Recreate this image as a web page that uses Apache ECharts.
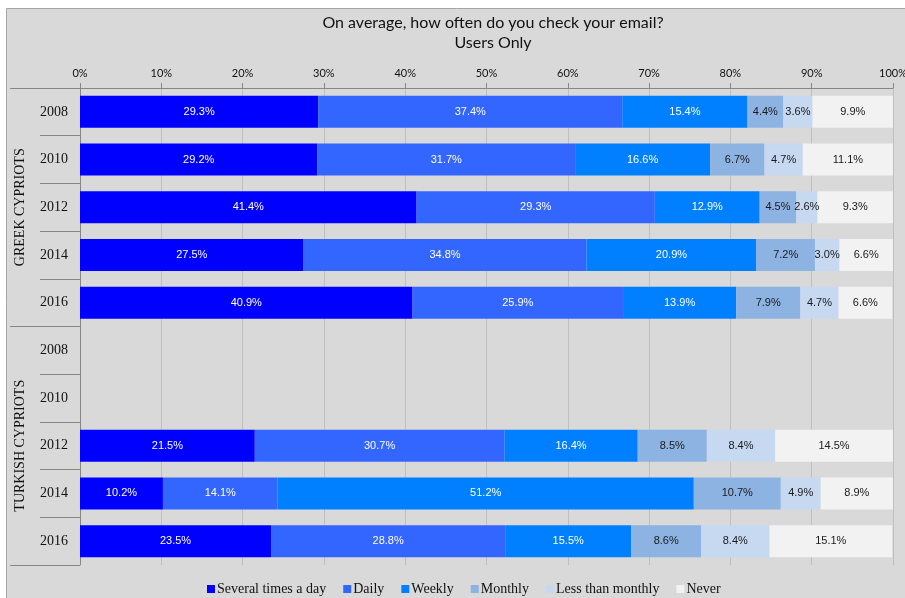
<!DOCTYPE html>
<html>
<head>
<meta charset="utf-8">
<style>
  html, body { margin: 0; padding: 0; background: #ffffff; }
  #chart { width: 905px; height: 598px; }
</style>
<script src="https://cdn.jsdelivr.net/npm/echarts@6/dist/echarts.min.js"></script>
</head>
<body>
<div id="chart"></div>
<script>
// Survey rows: two communities, five survey years each
const groups = ['GREEK CYPRIOTS', 'TURKISH CYPRIOTS'];
const years = ['2008', '2010', '2012', '2014', '2016'];

const seriesNames = ['Several times a day', 'Daily', 'Weekly', 'Monthly', 'Less than monthly', 'Never'];

// Percentages per row (Greek Cypriots 2008..2016, then Turkish Cypriots 2008..2016)
const severalTimes    = [29.3, 29.2, 41.4, 27.5, 40.9, null, null, 21.5, 10.2, 23.5];
const daily           = [37.4, 31.7, 29.3, 34.8, 25.9, null, null, 30.7, 14.1, 28.8];
const weekly          = [15.4, 16.6, 12.9, 20.9, 13.9, null, null, 16.4, 51.2, 15.5];
const monthly         = [4.4, 6.7, 4.5, 7.2, 7.9, null, null, 8.5, 10.7, 8.6];
const lessThanMonthly = [3.6, 4.7, 2.6, 3.0, 4.7, null, null, 8.4, 4.9, 8.4];
const never           = [9.9, 11.1, 9.3, 6.6, 6.6, null, null, 14.5, 8.9, 15.1];

const seriesValues = [severalTimes, daily, weekly, monthly, lessThanMonthly, never];
const colors = ['#0000ff', '#3366ff', '#0080ff', '#8db3e2', '#c6d9f1', '#f2f2f2'];
const labelColors = ['#ffffff', '#ffffff', '#ffffff', '#1a1a1a', '#1a1a1a', '#1a1a1a'];

// Unique row keys so repeated years stay distinct on the category axis
const rowKeys = [];
groups.forEach(function (g) { years.forEach(function (y) { rowKeys.push(g + '|' + y); }); });

const chart = echarts.init(document.getElementById('chart'), null, { renderer: 'canvas' });

const option = {
  backgroundColor: 'transparent',
  animation: false,
  graphic: [{
    type: 'rect',
    z: -100,
    silent: true,
    shape: { x: 6.5, y: 8.5, width: 910, height: 600 },
    style: { fill: '#d9d9d9', stroke: '#a6a6a6', lineWidth: 1 }
  }],
  title: {
    text: 'On average, how often do you check your email?\nUsers Only',
    left: 488,
    top: 8,
    textAlign: 'center',
    textStyle: {
      fontFamily: 'Lato',
      fontSize: 16,
      fontWeight: 'normal',
      color: '#111111',
      lineHeight: 20
    }
  },
  legend: {
    top: 577,
    left: 202,
    itemWidth: 8,
    itemHeight: 8,
    itemGap: 17,
    icon: 'rect',
    data: seriesNames,
    textStyle: {
      fontFamily: 'Liberation Serif',
      fontSize: 14,
      color: '#111111',
      padding: [0, 0, 0, -3]
    }
  },
  grid: { left: 80, right: 12, top: 88, bottom: 33, containLabel: false, outerBoundsMode: 'none' },
  xAxis: {
    type: 'value',
    position: 'top',
    min: 0,
    max: 100,
    interval: 10,
    axisLine: { show: true, lineStyle: { color: '#868686', width: 1 } },
    axisTick: { show: true, length: 5, lineStyle: { color: '#868686' } },
    axisLabel: {
      margin: 9,
      fontFamily: 'Lato',
      fontSize: 11,
      color: '#111111',
      formatter: '{value}%'
    },
    splitLine: { show: true, lineStyle: { color: '#bfbfbf', width: 1 } }
  },
  yAxis: [
    {
      type: 'category',
      position: 'left',
      inverse: true,
      data: rowKeys,
      axisLine: { show: true, lineStyle: { color: '#868686' } },
      axisTick: { show: true, length: 40, interval: 0, lineStyle: { color: '#868686' } },
      axisLabel: {
        interval: 0,
        margin: 12,
        fontFamily: 'Liberation Serif',
        fontSize: 14,
        color: '#111111',
        formatter: function (v) { return v.split('|')[1]; }
      }
    },
    {
      type: 'category',
      position: 'left',
      inverse: true,
      data: groups,
      axisLine: { show: false },
      axisTick: { show: true, length: 70, interval: 0, lineStyle: { color: '#868686' } },
      axisLabel: {
        interval: 0,
        rotate: 90,
        margin: 53,
        fontFamily: 'Liberation Serif',
        fontSize: 14,
        color: '#111111'
      }
    }
  ],
  series: seriesNames.map(function (name, i) {
    return {
      name: name,
      type: 'bar',
      stack: 'total',
      yAxisIndex: 0,
      barWidth: 32,
      itemStyle: { color: colors[i] },
      label: {
        show: true,
        position: 'inside',
        fontFamily: 'Liberation Sans',
        fontSize: 11,
        color: labelColors[i],
        formatter: function (p) { return p.value == null ? '' : p.value.toFixed(1) + '%'; }
      },
      data: seriesValues[i]
    };
  })
};

chart.setOption(option);
</script>
</body>
</html>
